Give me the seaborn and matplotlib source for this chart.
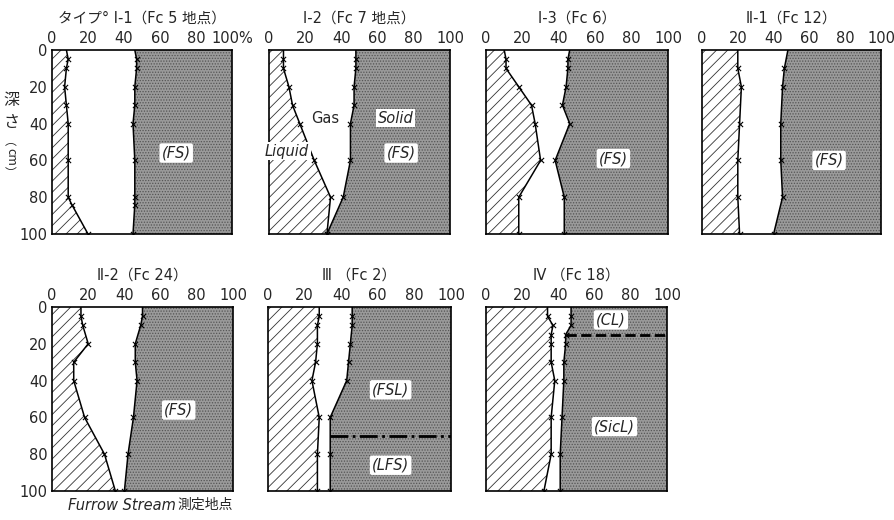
import matplotlib
matplotlib.use("Agg")
import matplotlib.pyplot as plt
import seaborn as sns

# ---------------- data ----------------
titles = ["タイプ° Ⅰ-1（Fc 5 地点）", "Ⅰ-2（Fc 7 地点）", "Ⅰ-3（Fc 6）", "Ⅱ-1（Fc 12）",
          "Ⅱ-2（Fc 24）", "Ⅲ （Fc 2）", "Ⅳ （Fc 18）"]

depth_1 = [0, 5, 10, 20, 30, 40, 60, 80, 84, 100]
liquid_1 = [8, 9, 8, 7, 8, 9, 9, 9, 11, 20]
liqgas_1 = [46, 47, 47, 46, 46, 45, 46, 46, 46, 45]

depth_2 = [0, 5, 10, 20, 30, 40, 60, 80, 100]
liquid_2 = [8, 8, 8, 11, 13, 17, 25, 34, 32]
liqgas_2 = [48, 48, 48, 47, 47, 45, 45, 41, 32]

depth_3 = [0, 5, 10, 20, 30, 40, 60, 80, 100]
liquid_3 = [10, 11, 11, 18, 25, 27, 30, 18, 18]
liqgas_3 = [46, 45, 45, 44, 42, 46, 38, 43, 43]

depth_4 = [0, 10, 20, 40, 60, 80, 100]
liquid_4 = [20, 20, 22, 21, 20, 20, 21]
liqgas_4 = [48, 46, 45, 44, 44, 45, 40]

depth_5 = [0, 5, 10, 20, 30, 40, 60, 80, 100]
liquid_5 = [16, 16, 17, 20, 12, 12, 18, 29, 35]
liqgas_5 = [50, 50, 49, 46, 46, 47, 45, 42, 40]

depth_6 = [0, 5, 10, 20, 30, 40, 60, 80, 100]
liquid_6 = [28, 28, 27, 27, 26, 24, 28, 27, 27]
liqgas_6 = [46, 46, 46, 45, 44, 43, 34, 34, 34]

depth_7 = [0, 5, 10, 15, 20, 30, 40, 60, 80, 100]
liquid_7 = [34, 34, 37, 36, 36, 36, 38, 36, 36, 32]
liqgas_7 = [47, 47, 47, 44, 44, 43, 43, 42, 41, 41]

x_ticks = [0, 20, 40, 60, 80, 100]
y_ticks = [0, 20, 40, 60, 80, 100]

# soil texture labels: (panel index, x %, depth, text)
texture_labels = [(0, 69, 56, "(FS)"), (1, 73, 56, "(FS)"), (2, 70, 59, "(FS)"),
                  (3, 71, 60, "(FS)"), (4, 70, 56, "(FS)"), (5, 67, 45, "(FSL)"),
                  (5, 67, 86, "(LFS)"), (6, 69, 7, "(CL)"), (6, 71, 65, "(SicL)")]
phase_labels = [(1, 31, 37, "Gas", "normal"), (1, 70, 37, "Solid", "italic"),
                (1, 10, 55, "Liquid", "italic")]
# horizon boundaries: (panel index, depth, start x %)
horizons = [(5, 70, 34), (6, 15, 44)]

ylabel_chars = ["深", "さ", "︵", "cm", "︶"]

# ---------------- plot ----------------
sns.set_theme(style="white")
plt.rcParams["font.family"] = ["DejaVu Sans", "Noto Sans CJK JP"]
plt.rcParams["hatch.linewidth"] = 0.6

fig = plt.figure(figsize=(8.94, 5.2), dpi=100)
W, H = 894, 520
boxes = [(52, 50, 232, 234), (269, 50, 450, 234), (486, 50, 668, 234), (702, 50, 881, 234),
         (52, 307, 233, 491), (268, 307, 451, 491), (486, 307, 667, 491)]

panels = [(depth_1, liquid_1, liqgas_1), (depth_2, liquid_2, liqgas_2),
          (depth_3, liquid_3, liqgas_3), (depth_4, liquid_4, liqgas_4),
          (depth_5, liquid_5, liqgas_5), (depth_6, liquid_6, liqgas_6),
          (depth_7, liquid_7, liqgas_7)]

axes = []
for i, ((x0, y0, x1, y1), (dep, liq, lg)) in enumerate(zip(boxes, panels)):
    ax = fig.add_axes([x0 / W, 1 - y1 / H, (x1 - x0) / W, (y1 - y0) / H])
    axes.append(ax)
    # liquid (hatched)
    ax.fill_betweenx(dep, 0, liq, facecolor="white", hatch="///", edgecolor="#333333", linewidth=0)
    # solid (stippled gray)
    ax.fill_betweenx(dep, lg, 100, facecolor="#9a9a9a", hatch="......", edgecolor="#555555", linewidth=0)
    for vals in (liq, lg):
        sns.lineplot(x=vals, y=dep, sort=False, estimator=None, color="black", lw=1.1, ax=ax)
        sns.scatterplot(x=vals[1:], y=dep[1:], marker="x", s=14, color="black", linewidth=0.8, ax=ax)
    ax.set_xlim(0, 100)
    ax.set_ylim(100, 0)
    ax.xaxis.tick_top()
    ax.set_xticks(x_ticks)
    xl = [str(t) for t in x_ticks]
    if i == 0:
        xl[-1] = "100%"
    ax.set_xticklabels(xl, fontsize=10.5)
    ax.tick_params(axis="x", top=True, bottom=False, length=0, pad=3)
    ax.set_yticks(y_ticks)
    if i in (0, 4):
        ax.set_yticklabels([str(t) for t in y_ticks], fontsize=10.5)
        ax.tick_params(axis="y", length=0, pad=3)
    else:
        ax.set_yticklabels([])
        ax.tick_params(axis="y", length=0)
    ax.set_xlabel("")
    ax.set_ylabel("")
    for sp in ax.spines.values():
        sp.set_color("black")
        sp.set_linewidth(1.2)
    ax.set_title(titles[i], fontsize=10.5, pad=20)

for (pi, d, xs) in horizons:
    ax = axes[pi]
    ax.plot([xs, 100], [d, d], color="black", lw=2, ls="-." if pi == 5 else "--")

for (pi, x, d, t) in texture_labels:
    axes[pi].text(x, d, t, fontsize=10.5, style="italic", ha="center", va="center",
                  bbox=dict(boxstyle="round,pad=0.15", fc="white", ec="none"))
for (pi, x, d, t, st) in phase_labels:
    axes[pi].text(x, d, t, fontsize=10.5, style=st, ha="center", va="center",
                  bbox=dict(boxstyle="square,pad=0.1", fc="white", ec="none"))

# y label as stacked vertical characters
ysizes = [11.5, 11.5, 8.5, 9, 8.5]
for ch, ypix, fs in zip(ylabel_chars, [100, 122, 141, 157, 174], ysizes):
    fig.text(11 / W, 1 - ypix / H, ch, fontsize=fs,
             ha="center", va="center", rotation=0 if ch != "cm" else -90,
             family=["Noto Sans CJK JP", "DejaVu Sans"])

fig.text(68 / W, 1 - 505 / H, "Furrow Stream", fontsize=10.5, style="italic", ha="left", va="center")
fig.text(177 / W, 1 - 505 / H, "測定地点", fontsize=10, ha="left", va="center",
         family=["Noto Sans CJK JP", "DejaVu Sans"])

fig.savefig("out.png", dpi=100)
